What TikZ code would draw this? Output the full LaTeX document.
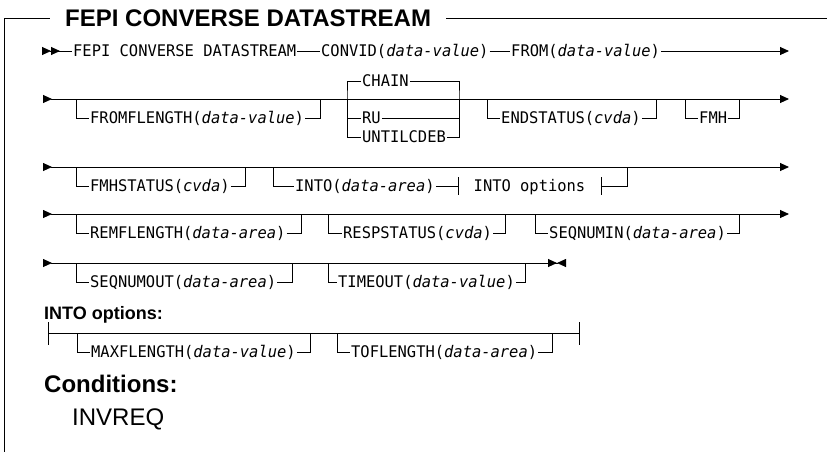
\documentclass[tikz,border=0pt]{standalone}
\usepackage{fontspec}
\newfontfamily\synfont[FakeStretch=0.965]{DejaVu Sans Mono}
\newfontfamily\headfont{Liberation Sans}
\usetikzlibrary{arrows.meta}

\begin{document}
\begin{tikzpicture}[
      x=1pt, y=-1pt,
      kw/.style={font=\synfont\fontsize{16}{19}\selectfont, anchor=west,
      inner xsep=1pt, inner ysep=0pt, text height=11.7pt, text depth=0pt},
      head/.style={font=\headfont\bfseries\fontsize{18}{22}\selectfont,
      anchor=west, inner sep=0pt, text height=12.9pt, text depth=0pt},
      titlebox/.style={font=\headfont\bfseries\fontsize{24}{28}\selectfont,
      anchor=west, inner xsep=15pt, inner ysep=0pt, text height=17pt, text depth=0pt},
      line/.style={draw, line width=0.9pt},
      row/.style={line, {Triangle[reversed, length=9pt, width=8pt]}-{Triangle[length=9pt, width=8pt]}}
    ]
    \useasboundingbox (0,0) rectangle (827,451);

    % frame and title
    \node [titlebox] (title) at (50,18) {FEPI CONVERSE DATASTREAM};
    \coordinate (frbot) at (4,452);
    \coordinate (frend) at (828,18);
    \path [line] (frbot) |- (title.west);
    \path [line] (title.east) -- (frend);

    % row 1
    \coordinate (r1s) at (42,51);
    \coordinate (r1e) at (789,51);
    \node [kw] (fepi) at (72,51) {FEPI CONVERSE DATASTREAM};
    \node [kw] (convid) at (320,51) {CONVID(\textit{data-value})};
    \node [kw] (from) at (510,51) {FROM(\textit{data-value})};
    \path [line, {Triangle[reversed, length=9pt, width=8pt]Triangle[reversed, length=9pt, width=8pt]}-]
      (r1s) -- (fepi);
    \path [line] (fepi) -- (convid);
    \path [line] (convid) -- (from);
    \path [line, -{Triangle[length=9pt, width=8pt]}] (from) -- (r1e);

    % row 2
    \coordinate (r2s) at (43,99);
    \coordinate (r2e) at (789,99);
    \path [row] (r2s) -- (r2e);
    \coordinate (ff1) at (76,99);
    \coordinate (ff2) at (320,99);
    \node [kw] (fromflength) at (89,118) {FROMFLENGTH(\textit{data-value})};
    \path [line] (ff1) |- (fromflength.west);
    \path [line] (fromflength.east) -| (ff2);
    \coordinate (ch1) at (347,99);
    \coordinate (ch2) at (459,99);
    \node [kw] (chain) at (361,81) {CHAIN};
    \node [kw] (ru) at (361,118) {RU};
    \node [kw] (untilcdeb) at (361,137) {UNTILCDEB};
    \path [line] (chain.west) -| (ch1) |- (untilcdeb.west);
    \path [line] (ch1) |- (ru.west);
    \path [line] (chain.east) -| (ch2) |- (untilcdeb.east);
    \path [line] (ru.east) -| (ch2);
    \coordinate (es1) at (487,99);
    \coordinate (es2) at (656,99);
    \node [kw] (endstatus) at (500,118) {ENDSTATUS(\textit{cvda})};
    \path [line] (es1) |- (endstatus.west);
    \path [line] (endstatus.east) -| (es2);
    \coordinate (fm1) at (685,99);
    \coordinate (fm2) at (739,99);
    \node [kw] (fmh) at (698,118) {FMH};
    \path [line] (fm1) |- (fmh.west);
    \path [line] (fmh.east) -| (fm2);

    % row 3
    \coordinate (r3s) at (43,167);
    \coordinate (r3e) at (789,167);
    \path [row] (r3s) -- (r3e);
    \coordinate (fs1) at (76,167);
    \coordinate (fs2) at (245,167);
    \node [kw] (fmhstatus) at (89,186) {FMHSTATUS(\textit{cvda})};
    \path [line] (fs1) |- (fmhstatus.west);
    \path [line] (fmhstatus.east) -| (fs2);
    \coordinate (it1) at (273,167);
    \coordinate (it2) at (627,167);
    \node [kw] (into) at (294,186) {INTO(\textit{data-area})};
    \node [kw, inner xsep=15.5pt, inner ysep=2.7pt] (intoref) at (458,186) {INTO options};
    \path [line] (it1) |- (into.west);
    \path [line] (into.east) -- (intoref.west);
    \path [line] (intoref.north west) -- (intoref.south west);
    \path [line] (intoref.north east) -- (intoref.south east);
    \path [line] (intoref.east) -| (it2);

    % row 4
    \coordinate (r4s) at (43,214);
    \coordinate (r4e) at (789,214);
    \path [row] (r4s) -- (r4e);
    \coordinate (rl1) at (76,214);
    \coordinate (rl2) at (301,214);
    \node [kw] (remflength) at (89,233) {REMFLENGTH(\textit{data-area})};
    \path [line] (rl1) |- (remflength.west);
    \path [line] (remflength.east) -| (rl2);
    \coordinate (rs1) at (328,214);
    \coordinate (rs2) at (505,214);
    \node [kw] (respstatus) at (342,233) {RESPSTATUS(\textit{cvda})};
    \path [line] (rs1) |- (respstatus.west);
    \path [line] (respstatus.east) -| (rs2);
    \coordinate (sn1) at (535,214);
    \coordinate (sn2) at (739,214);
    \node [kw] (seqnumin) at (548,233) {SEQNUMIN(\textit{data-area})};
    \path [line] (sn1) |- (seqnumin.west);
    \path [line] (seqnumin.east) -| (sn2);

    % row 5
    \coordinate (r5s) at (43,263);
    \coordinate (r5e) at (566,263);
    \path [line, {Triangle[reversed, length=9pt, width=8pt]}-{Triangle[length=9pt, width=8pt]Triangle[reversed, length=9pt, width=8pt]}]
      (r5s) -- (r5e);
    \coordinate (so1) at (76,263);
    \coordinate (so2) at (292,263);
    \node [kw] (seqnumout) at (89,282) {SEQNUMOUT(\textit{data-area})};
    \path [line] (so1) |- (seqnumout.west);
    \path [line] (seqnumout.east) -| (so2);
    \coordinate (to1) at (328,263);
    \coordinate (to2) at (525,263);
    \node [kw] (timeout) at (337,282) {TIMEOUT(\textit{data-value})};
    \path [line] (to1) |- (timeout.west);
    \path [line] (timeout.east) -| (to2);

    % INTO options fragment
    \node [head] (intohead) at (44,313) {INTO options:};
    \coordinate (r6s) at (48,333);
    \coordinate (r6e) at (579,333);
    \coordinate (r6st) at (48,322);
    \coordinate (r6sb) at (48,345);
    \coordinate (r6et) at (579,322);
    \coordinate (r6eb) at (579,345);
    \path [line] (r6s) -- (r6e);
    \path [line] (r6st) -- (r6sb);
    \path [line] (r6et) -- (r6eb);
    \coordinate (mx1) at (77,333);
    \coordinate (mx2) at (310,333);
    \node [kw] (maxflength) at (90,352) {MAXFLENGTH(\textit{data-value})};
    \path [line] (mx1) |- (maxflength.west);
    \path [line] (maxflength.east) -| (mx2);
    \coordinate (tf1) at (337,333);
    \coordinate (tf2) at (552,333);
    \node [kw] (toflength) at (350,352) {TOFLENGTH(\textit{data-area})};
    \path [line] (tf1) |- (toflength.west);
    \path [line] (toflength.east) -| (tf2);

    % conditions
    \node [head, font=\headfont\bfseries\fontsize{24}{28}\selectfont, text height=17pt]
      (condhead) at (44,384) {Conditions:};
    \node [head, font=\headfont\fontsize{24}{28}\selectfont, text height=17pt]
      (invreq) at (72,417) {INVREQ};
  \end{tikzpicture}
\end{document}
